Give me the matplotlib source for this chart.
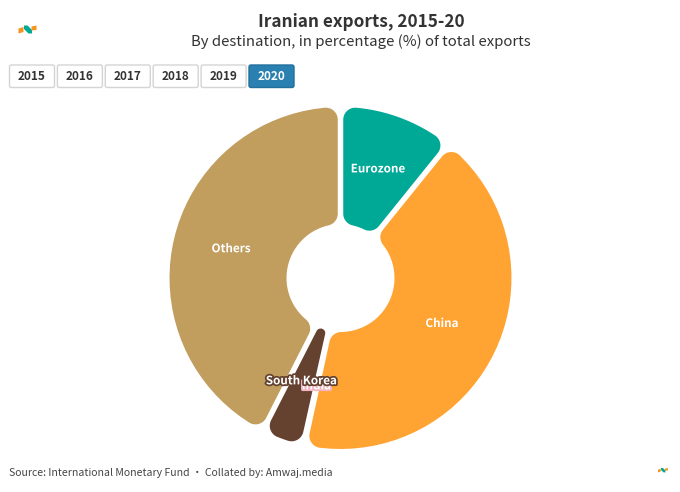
import numpy as np
import matplotlib
matplotlib.use("Agg")
import matplotlib.pyplot as plt
from matplotlib.patches import FancyBboxPatch, Polygon
import matplotlib.patheffects as pe

plt.rcParams['font.family'] = ['Noto Sans CJK SC', 'DejaVu Sans']

# data
destinations = ['Eurozone', 'China', 'India', 'South Korea', 'Others']
shares = [10.8, 42.6, 0.1, 4.0, 42.5]
slice_colors = ['#00a896', '#ffa433', '#f4b6c2', '#654130', '#c19d5e']
years = ['2015', '2016', '2017', '2018', '2019', '2020']

cx, cy = 340.5, 278
r_out, r_in = 171, 54
gap = 5.5
corner = 12


def u(phi):
    # clockwise from north, y axis points down
    return np.array([np.sin(phi), -np.cos(phi)]).T


def arc(c, r, a, b):
    return c + r * u(np.linspace(a, b, 40))


def slice_outline(p1, p2):
    half = (p2 - p1) / 2
    s = np.sin(half)
    rc_o = min(corner, (r_out * s - gap / 2) / (1 + s))
    rc_i = min(corner, (r_in * s - gap / 2) / (1 - s))
    a = np.arcsin((rc_o + gap / 2) / (r_out - rc_o))
    b = np.arcsin((rc_i + gap / 2) / (r_in + rc_i))
    co1 = (r_out - rc_o) * u(p1 + a)
    co2 = (r_out - rc_o) * u(p2 - a)
    ci2 = (r_in + rc_i) * u(p2 - b)
    ci1 = (r_in + rc_i) * u(p1 + b)
    pts = [
        arc(co1, rc_o, p1 - np.pi / 2, p1 + a),
        arc(0, r_out, p1 + a, p2 - a),
        arc(co2, rc_o, p2 - a, p2 + np.pi / 2),
        arc(ci2, rc_i, p2 + np.pi / 2, p2 - b + np.pi),
        arc(0, r_in, p2 - b, p1 + b),
        arc(ci1, rc_i, p1 + b + np.pi, p1 + 1.5 * np.pi),
    ]
    return np.vstack(pts)


fig = plt.figure(figsize=(6.8, 4.92), dpi=100)
ax = fig.add_axes([0, 0, 1, 1])
ax.set_xlim(0, 680)
ax.set_ylim(492, 0)
ax.axis('off')

# donut
edges = np.r_[0, np.cumsum(shares)] / sum(shares) * 2 * np.pi
for i, name in enumerate(destinations):
    p1, p2 = edges[i], edges[i + 1]
    if shares[i] > 1:
        xy = slice_outline(p1, p2)
        ax.fill(xy[:, 0] + cx, xy[:, 1] + cy, color=slice_colors[i], lw=0, zorder=2)

for i, name in enumerate(destinations):
    mid = (edges[i] + edges[i + 1]) / 2
    lx, ly = (r_out + r_in) / 2 * u(mid)
    lx, ly = lx + cx, ly + cy - 3
    if name == 'South Korea':
        lx -= 1
    if name == 'India':
        ly += 1
    ax.text(lx, ly, name, color='white', fontsize=8.4, fontweight='bold',
            ha='center', va='center', zorder=3 + (name == 'South Korea'),
            path_effects=[pe.withStroke(linewidth=2.5, foreground=slice_colors[i])])

# titles
ax.text(361.5, 22, 'Iranian exports, 2015-20', fontsize=12.4, fontweight='bold',
        color='#333333', ha='center', va='center')
ax.text(361, 42, 'By destination, in percentage (%) of total exports', fontsize=10.75,
        color='#333333', ha='center', va='center')
ax.text(9, 472.5, 'Source: International Monetary Fund • Collated by: Amwaj.media',
        fontsize=7.55, color='#444444', ha='left', va='center')

# year buttons
for i, yr in enumerate(years):
    x0 = 9.5 + i * 47.9
    on = yr == '2020'
    ax.add_patch(FancyBboxPatch((x0 + 2, 67), 41, 18.5, boxstyle='round,pad=2,rounding_size=2',
                                fc='#2a80b0' if on else 'white',
                                ec='#22709c' if on else '#d4d4d4', lw=1))
    ax.text(x0 + 22.5, 76.3, yr, fontsize=8.5, fontweight='bold', ha='center', va='center',
            color='white' if on else '#333333')


# logos
def logo(x, y, k):
    ax.add_patch(Polygon([(x, y + 3 * k), (x + 5 * k, y + 1.5 * k), (x + 5 * k, y + 6.5 * k),
                          (x, y + 8 * k)], fc='#f7941e', lw=0))
    ax.add_patch(Polygon([(x + 5.5 * k, y), (x + 9 * k, y), (x + 13.5 * k, y + 4.5 * k),
                          (x + 13.5 * k, y + 8 * k), (x + 10 * k, y + 8 * k), (x + 5.5 * k, y + 3.5 * k)],
                         fc='#00a896', lw=0))
    ax.add_patch(Polygon([(x + 13 * k, y + 1 * k), (x + 18 * k, y), (x + 18 * k, y + 4.5 * k),
                          (x + 13 * k, y + 5 * k)], fc='#f7941e', lw=0))


logo(18.5, 25.5, 1)
logo(658, 468, 0.55)

fig.savefig('out.png', dpi=100)
